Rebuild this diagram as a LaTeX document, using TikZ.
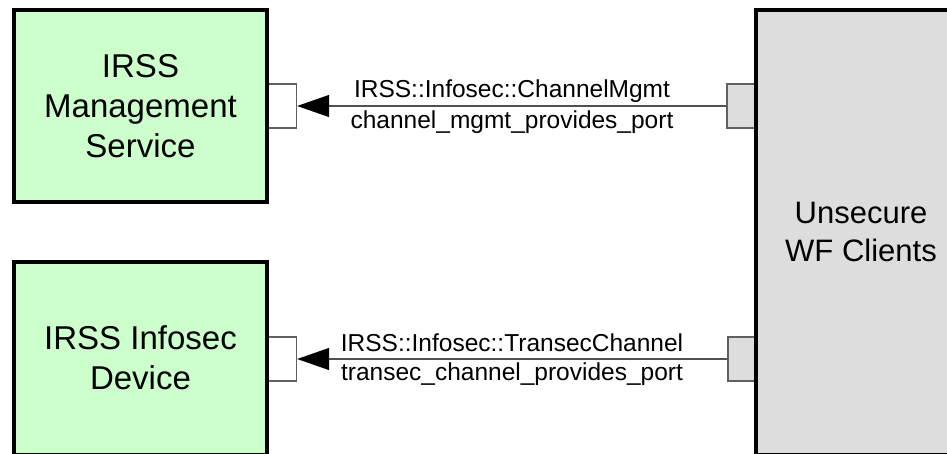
\documentclass[tikz,border=0pt]{standalone}
\usepackage{fontspec}
\setmainfont{Liberation Sans}
\usetikzlibrary{arrows.meta}
\definecolor{boxgreen}{HTML}{CCFFCC}
\definecolor{boxgray}{HTML}{DDDDDD}
\definecolor{portline}{HTML}{606060}
\definecolor{connline}{HTML}{505050}
\tikzset{
  compbox/.style={draw=black, line width=4pt, rectangle, inner sep=0pt, align=center},
  greenbox/.style={compbox, fill=boxgreen, font=\fontsize{33}{40}\selectfont},
  graybox/.style={compbox, fill=boxgray, font=\fontsize{31}{38}\selectfont},
  portbox/.style={draw=portline, line width=1.3pt, rectangle, inner sep=0pt,
    minimum width=28pt, minimum height=44pt},
  lport/.style={portbox, fill=white},
  rport/.style={portbox, fill=boxgray},
  conn/.style={draw=connline, line width=1.2pt,
    -{Triangle[length=32pt, width=22pt, fill=black, color=black]}},
  lbl/.style={font=\fontsize{24.5}{28}\selectfont, anchor=base, inner sep=0pt}
}
\begin{document}
\begin{tikzpicture}[x=1pt, y=-1pt]
\useasboundingbox (0,0) rectangle (947,453);
\clip (0,0) rectangle (947,453);
% ports
\node[lport] (lp1) at (282.5,106) {};
\node[rport] (rp1) at (741,106) {};
\node[lport] (lp2) at (282.5,359) {};
\node[rport] (rp2) at (742,359) {};
% boxes
\node[greenbox, minimum width=253pt, minimum height=191.5pt] (mgmt) at (140.5,105.75)
  {IRSS\\Management\\Service};
\node[greenbox, minimum width=253pt, minimum height=193pt] (dev) at (140.5,358)
  {IRSS Infosec\\Device};
\node[graybox, minimum width=211pt, minimum height=445pt] (wf) at (861,232)
  {Unsecure\\WF Clients};
% connectors
\draw[conn] (rp1.west) -- (lp1.east);
\draw[conn] (rp2.west) -- (lp2.east);
% labels
\node[lbl] (l1a) at (512,97) {IRSS::Infosec::ChannelMgmt};
\node[lbl] (l1b) at (512,128) {channel\_mgmt\_provides\_port};
\node[lbl] (l2a) at (512,351) {IRSS::Infosec::TransecChannel};
\node[lbl] (l2b) at (512,380) {transec\_channel\_provides\_port};
\end{tikzpicture}
\end{document}
